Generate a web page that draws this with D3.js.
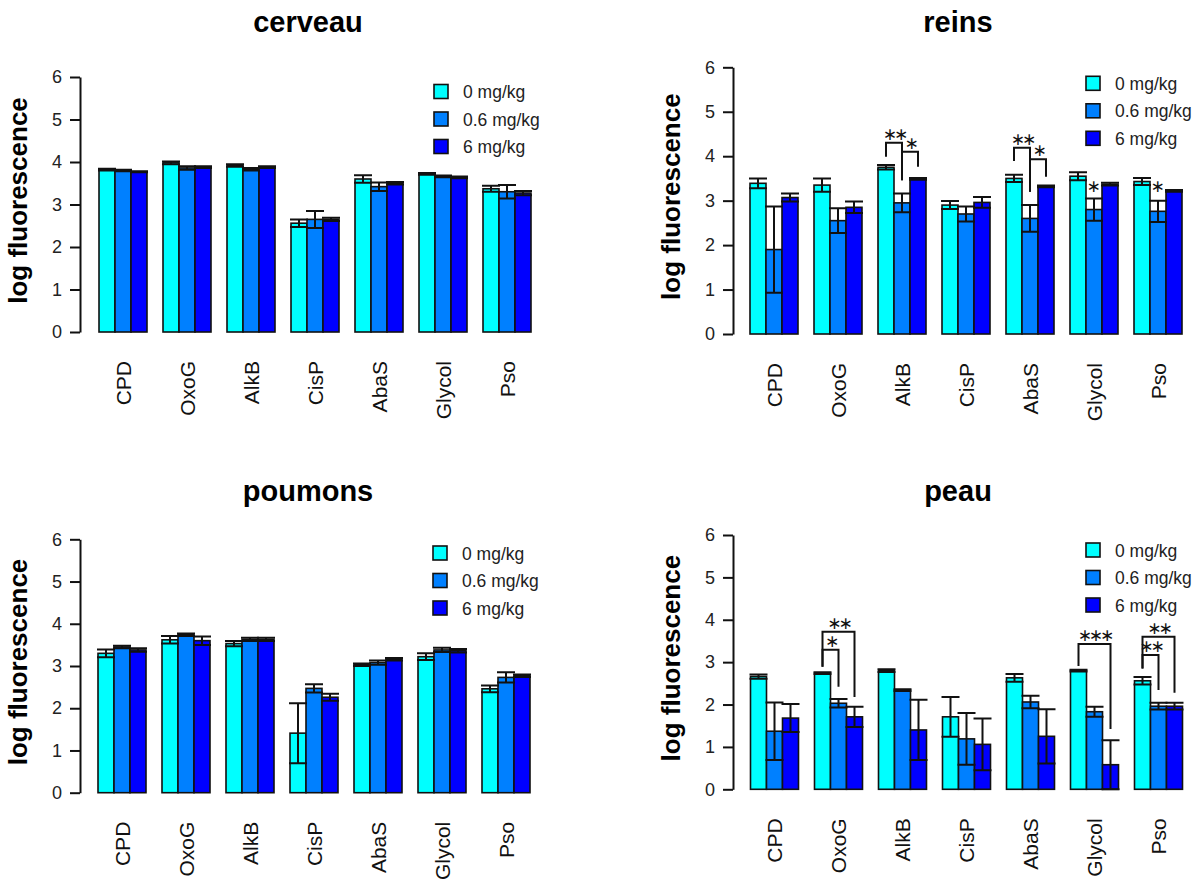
<!DOCTYPE html>
<html>
<head>
<meta charset="utf-8">
<script src="https://cdn.jsdelivr.net/npm/d3@7"></script>
<style>
  html, body { margin: 0; padding: 0; background: #fff; }
  svg { display: block; font-family: "Liberation Sans", Arial, Helvetica, sans-serif; }
</style>
</head>
<body>
<svg id="chart" width="1200" height="884"></svg>
<script>
// ---------- data ----------
const categories = ["CPD", "OxoG", "AlkB", "CisP", "AbaS", "Glycol", "Pso"];
const seriesNames = ["0 mg/kg", "0.6 mg/kg", "6 mg/kg"];
const seriesColors = ["#00FFFF", "#0080FF", "#0000FF"];
const yTicks = [0, 1, 2, 3, 4, 5, 6];

// cerveau
const cerveau0  = [3.82, 3.98, 3.92, 2.56, 3.60, 3.72, 3.37];
const cerveau06 = [3.80, 3.86, 3.83, 2.65, 3.42, 3.66, 3.30];
const cerveau6  = [3.77, 3.88, 3.88, 2.65, 3.50, 3.64, 3.27];
const cerveauSe0  = [0.02, 0.03, 0.03, 0.09, 0.09, 0.02, 0.07];
const cerveauSe06 = [0.02, 0.04, 0.03, 0.20, 0.10, 0.02, 0.16];
const cerveauSe6  = [0.01, 0.02, 0.02, 0.04, 0.03, 0.02, 0.05];

// reins
const reins0  = [3.39, 3.35, 3.75, 2.90, 3.50, 3.55, 3.43];
const reins06 = [1.90, 2.55, 2.95, 2.70, 2.60, 2.80, 2.76];
const reins6  = [3.07, 2.85, 3.49, 2.96, 3.32, 3.37, 3.22];
const reinsSe0  = [0.11, 0.15, 0.05, 0.09, 0.08, 0.09, 0.08];
const reinsSe06 = [0.97, 0.28, 0.21, 0.17, 0.30, 0.25, 0.24];
const reinsSe6  = [0.09, 0.13, 0.02, 0.12, 0.02, 0.03, 0.02];

// poumons
const poumons0  = [3.30, 3.62, 3.53, 1.41, 3.03, 3.22, 2.46];
const poumons06 = [3.45, 3.74, 3.63, 2.47, 3.08, 3.38, 2.73];
const poumons6  = [3.38, 3.60, 3.63, 2.26, 3.16, 3.36, 2.77];
const poumonsSe0  = [0.09, 0.09, 0.06, 0.71, 0.03, 0.08, 0.08];
const poumonsSe06 = [0.03, 0.03, 0.04, 0.10, 0.05, 0.05, 0.12];
const poumonsSe6  = [0.04, 0.10, 0.04, 0.08, 0.03, 0.04, 0.03];

// peau
const peau0  = [2.66, 2.74, 2.80, 1.71, 2.63, 2.80, 2.56];
const peau06 = [1.37, 2.03, 2.34, 1.19, 2.06, 1.83, 1.96];
const peau6  = [1.68, 1.71, 1.40, 1.06, 1.25, 0.58, 1.96];
const peauSe0  = [0.05, 0.02, 0.03, 0.47, 0.09, 0.02, 0.09];
const peauSe06 = [0.68, 0.10, 0.02, 0.61, 0.15, 0.12, 0.08];
const peauSe6  = [0.33, 0.24, 0.71, 0.61, 0.64, 0.58, 0.08];

// significance brackets: category, bar from, bar to, top value, left leg end, right leg end, label
const reinsBrackets = [
  ["AlkB", 0, 1, 4.30, 3.99, 3.46, "∗∗"],
  ["AlkB", 1, 2, 4.10, 3.46, 3.76, "∗"],
  ["AbaS", 0, 1, 4.19, 3.89, 3.20, "∗∗"],
  ["AbaS", 1, 2, 3.93, 3.20, 3.54, "∗"]
];
const reinsStars = [["Glycol", 1, 3.31, "∗"], ["Pso", 1, 3.31, "∗"]];
const peauBrackets = [
  ["OxoG", 0, 2, 3.72, 2.89, 2.18, "∗∗"],
  ["OxoG", 0, 1, 3.29, 2.89, 2.42, "∗"],
  ["Glycol", 0, 2, 3.43, 2.91, 1.42, "∗∗∗"],
  ["Pso", 0, 2, 3.60, 2.85, 2.28, "∗∗"],
  ["Pso", 0, 1, 3.17, 2.85, 2.34, "∗∗"]
];
const noBrackets = [];
const noStars = [];

// ---------- layout ----------
const panels = [
  { title: "cerveau", tx: 308, ty: 32, axisX: 80,  barStart: 99,    y0: 332,   y6: 77,    lx: 434,  ly: 91.5,
    means: [cerveau0, cerveau06, cerveau6], se: [cerveauSe0, cerveauSe06, cerveauSe6], brackets: noBrackets, stars: noStars },
  { title: "reins",   tx: 958, ty: 32, axisX: 733, barStart: 750,   y0: 334,   y6: 67.3,  lx: 1086, ly: 83.3,
    means: [reins0, reins06, reins6], se: [reinsSe0, reinsSe06, reinsSe6], brackets: reinsBrackets, stars: reinsStars },
  { title: "poumons", tx: 308, ty: 501, axisX: 80, barStart: 98,    y0: 792.7, y6: 539.3, lx: 433,  ly: 553,
    means: [poumons0, poumons06, poumons6], se: [poumonsSe0, poumonsSe06, poumonsSe6], brackets: noBrackets, stars: noStars },
  { title: "peau",    tx: 958, ty: 501, axisX: 733, barStart: 750.5, y0: 789.3, y6: 535,   lx: 1086, ly: 550,
    means: [peau0, peau06, peau6], se: [peauSe0, peauSe06, peauSe6], brackets: peauBrackets, stars: noStars }
];

const svg = d3.select("#chart");
const barW = 16, groupStep = 64;
const starSize = 17;

panels.forEach(p => {
  const g = svg.append("g");
  const y = d3.scaleLinear().domain([0, 6]).range([p.y0, p.y6]);
  const groupSpan = categories.length * groupStep - barW;
  const x0 = d3.scaleBand().domain(categories)
    .range([p.barStart, p.barStart + groupSpan]).paddingInner(barW / groupStep).paddingOuter(0);
  const x1 = d3.scaleBand().domain(d3.range(seriesNames.length)).range([0, x0.bandwidth()]).padding(0);
  const cx = (cat, i) => x0(cat) + x1(i) + x1.bandwidth() / 2;

  // title
  g.append("text").attr("x", p.tx).attr("y", p.ty).attr("text-anchor", "middle")
    .attr("font-size", 29).attr("font-weight", "bold").attr("fill", "#000").text(p.title);

  // y axis title
  g.append("text")
    .attr("transform", `translate(${p.axisX - 53},${(p.y0 + p.y6) / 2 - 4}) rotate(-90)`)
    .attr("text-anchor", "middle").attr("font-size", 26).attr("font-weight", "bold")
    .attr("fill", "#000").text("log fluorescence");

  // y axis
  const axis = d3.axisLeft(y).tickValues(yTicks).tickFormat(d3.format("d"))
    .tickSizeInner(10).tickSizeOuter(0).tickPadding(8);
  const ag = g.append("g").attr("transform", `translate(${p.axisX},0)`).call(axis);
  ag.select(".domain").attr("stroke", "#111").attr("stroke-width", 2);
  ag.selectAll(".tick line").attr("stroke", "#111").attr("stroke-width", 2);
  ag.selectAll(".tick text").attr("font-size", 18).attr("fill", "#222")
    .attr("font-family", "\"Liberation Sans\", Arial, sans-serif");

  // bars
  const barData = [];
  categories.forEach((cat, ci) => {
    seriesNames.forEach((s, si) => {
      barData.push({ cat, si, v: p.means[si][ci], e: p.se[si][ci] });
    });
  });
  g.append("g").selectAll("rect").data(barData).join("rect")
    .attr("x", d => x0(d.cat) + x1(d.si))
    .attr("y", d => y(d.v))
    .attr("width", x1.bandwidth())
    .attr("height", d => y(0) - y(d.v))
    .attr("fill", d => seriesColors[d.si])
    .attr("stroke", "#111").attr("stroke-width", 1.6);

  // error bars
  const eg = g.append("g").attr("stroke", "#111").attr("stroke-width", 2).attr("fill", "none");
  eg.selectAll("path").data(barData).join("path")
    .attr("d", d => {
      const c = cx(d.cat, d.si), hi = y(d.v + d.e), lo = y(Math.max(0, d.v - d.e)), hw = 9;
      return `M${c},${hi}V${lo}M${c - hw},${hi}H${c + hw}M${c - hw},${lo}H${c + hw}`;
    });

  // category labels
  g.append("g").selectAll("text").data(categories).join("text")
    .attr("transform", d => `translate(${x0(d) + x0.bandwidth() / 2},${p.y0 + 29}) rotate(-90)`)
    .attr("text-anchor", "end").attr("dominant-baseline", "central")
    .attr("font-size", 21).attr("fill", "#111").text(d => d);

  // legend
  const lg = g.append("g");
  seriesNames.forEach((s, i) => {
    const cy = p.ly + i * 27.5;
    lg.append("rect").attr("x", p.lx).attr("y", cy - 7).attr("width", 14).attr("height", 14)
      .attr("fill", seriesColors[i]).attr("stroke", "#111").attr("stroke-width", 1.6);
    lg.append("text").attr("x", p.lx + 29).attr("y", cy + 6.5).attr("font-size", 17.5)
      .attr("fill", "#222").text(s);
  });

  // brackets and stars
  const bg = g.append("g");
  const star = (x, cyPx, lab) => bg.append("text").attr("x", x).attr("y", cyPx + starSize * 0.3)
    .attr("text-anchor", "middle").attr("font-family", "\"DejaVu Sans\", sans-serif")
    .attr("font-size", starSize).attr("letter-spacing", -3).attr("fill", "#111").text(lab);
  p.brackets.forEach(b => {
    const [cat, a, c, top, la, lc, lab] = b;
    const xa = cx(cat, a), xc = cx(cat, c);
    bg.append("path").attr("fill", "none").attr("stroke", "#111").attr("stroke-width", 2)
      .attr("d", `M${xa},${y(la)}V${y(top)}H${xc}V${y(lc)}`);
    star((xa + xc) / 2, y(top) - 8, lab);
  });
  p.stars.forEach(s => {
    const [cat, i, v, lab] = s;
    star(cx(cat, i) - 2, y(v), lab);
  });
});
</script>
</body>
</html>
